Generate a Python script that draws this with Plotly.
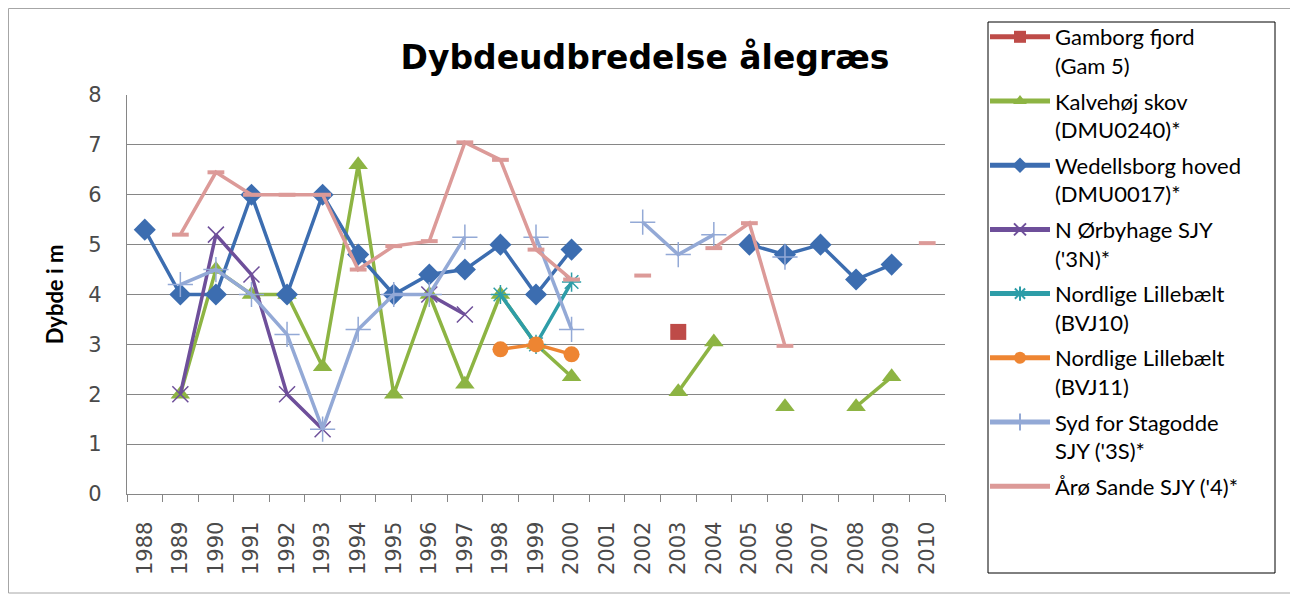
import plotly.graph_objects as go

years = [str(y) for y in range(1988, 2011)]

gamborg      = [None]*15 + [3.25] + [None]*7
kalvehoj     = [None, 2.0, 4.5, 4.0, 4.0, 2.55, 6.6, 2.0, 4.0, 2.2, 4.0, 3.0, 2.35,
                None, None, 2.05, 3.05, None, 1.75, None, 1.75, 2.35, None]
wedellsborg  = [5.3, 4.0, 4.0, 6.0, 4.0, 6.0, 4.8, 4.0, 4.4, 4.5, 5.0, 4.0, 4.9,
                None, None, None, None, 5.0, 4.8, 5.0, 4.3, 4.6, None]
orbyhage     = [None, 2.0, 5.2, 4.4, 2.0, 1.3, None, None, 4.0, 3.6, None, None, None,
                None, None, None, None, None, None, None, None, None, None]
bvj10        = [None]*10 + [4.0, 3.0, 4.25] + [None]*10
bvj11        = [None]*10 + [2.9, 3.0, 2.8] + [None]*10
stagodde     = [None, 4.2, 4.5, 4.0, 3.2, 1.3, 3.3, 4.0, 4.0, 5.15, None, 5.15, 3.3,
                None, 5.45, 4.8, 5.2, None, 4.75, None, None, None, None]
aro          = [None, 5.2, 6.45, 6.0, 6.0, 6.0, 4.5, 4.97, 5.07, 7.05, 6.7, 4.9, 4.3,
                None, 4.38, None, 4.93, 5.43, 2.97, None, None, None, 5.03]

names = ["Gamborg fjord<br>(Gam 5)",
         "Kalvehøj skov<br>(DMU0240)*",
         "Wedellsborg hoved<br>(DMU0017)*",
         "N Ørbyhage SJY<br>('3N)*",
         "Nordlige Lillebælt<br>(BVJ10)",
         "Nordlige Lillebælt<br>(BVJ11)",
         "Syd for Stagodde<br>SJY ('3S)*",
         "Årø Sande SJY ('4)*"]

series = [gamborg, kalvehoj, wedellsborg, orbyhage, bvj10, bvj11, stagodde, aro]
colors = ["#BE4B48", "#8DB443", "#3C6DB0", "#6E4F9A", "#2E9DA8", "#EE8532", "#93A9D6", "#DC9A98"]
markers = [
    dict(symbol="square", size=16),
    dict(symbol="triangle-up", size=17),
    dict(symbol="diamond", size=17),
    dict(symbol="x-thin-open", size=16, line=dict(width=1.5)),
    dict(symbol="asterisk-open", size=16, line=dict(width=1.5)),
    dict(symbol="circle", size=16),
    dict(symbol="cross-thin-open", size=18, line=dict(width=1.5)),
    dict(symbol="line-ew-open", size=12, line=dict(width=4)),
]

fig = go.Figure()
for i, (nm, ys, c, m) in enumerate(zip(names, series, colors, markers)):
    mk = dict(m)
    mk["color"] = c
    if "line" in mk:
        mk["line"] = dict(mk["line"], color=c)
    fig.add_trace(go.Scatter(
        x=years, y=ys, name=nm, mode="lines+markers",
        line=dict(color=c, width=3.5), marker=mk,
        legendgroup=str(i), connectgaps=False))

OFF = 8  # page body margin
L, R, T, B = 127 - OFF, 945 - OFF, 95 - OFF, 494 - OFF
W, H = 1298 - OFF, 594 - OFF
pw, ph = R - L, B - T

def px(x):
    return (x - OFF - L) / pw

def py(y):
    return (B - (y - OFF)) / ph

fig.update_layout(
    width=W, height=H,
    margin=dict(l=L, r=W - R, t=T, b=H - B, autoexpand=False),
    paper_bgcolor="white", plot_bgcolor="white",
    title=dict(text="<b>Dybdeudbredelse ålegræs</b>", x=(645 - OFF) / W, xanchor="center",
               y=1 - (57 - OFF) / H, yanchor="middle",
               font=dict(family="DejaVu Sans", size=33, color="black")),
    font=dict(family="DejaVu Sans", color="#404040"),
    legend=dict(x=px(985), y=py(16), xanchor="left", yanchor="top",
                font=dict(family="Lato", size=22, color="black"),
                bgcolor="rgba(0,0,0,0)", borderwidth=0, valign="top",
                itemwidth=60, itemsizing="constant", tracegroupgap=4,
                traceorder="grouped", maxheight=1.0),
    showlegend=True,
    shapes=[
        dict(type="rect", xref="paper", yref="paper",
             x0=px(988), x1=px(1275), y0=py(573), y1=py(22),
             line=dict(color="black", width=1), fillcolor="rgba(0,0,0,0)"),
        dict(type="rect", xref="paper", yref="paper",
             x0=px(8.5), x1=px(1297), y0=py(593), y1=py(8.5),
             line=dict(color="#A6A6A6", width=1), fillcolor="rgba(0,0,0,0)"),
    ],
)

fig.update_xaxes(type="category", categoryorder="array", categoryarray=years,
                 tickangle=-90, tickson="boundaries", ticks="outside", ticklen=7,
                 tickcolor="#868686", showline=True, linecolor="#868686", linewidth=1.3,
                 showgrid=False, tickfont=dict(family="DejaVu Sans", size=21, color="#4A4A4A"),
                 ticklabelstandoff=18, range=[-0.5, 22.5])
fig.update_yaxes(range=[0, 8], dtick=1, showgrid=True, gridcolor="#868686", gridwidth=1.3,
                 showline=True, linecolor="#868686", linewidth=1.3, zeroline=False,
                 tickfont=dict(family="DejaVu Sans", size=21, color="#4A4A4A"),
                 ticklabelstandoff=20,
                 title=dict(text="<b>Dybde i m</b>", standoff=18,
                            font=dict(family="Lato", size=22, color="black")))

fig.write_html("out.html")
